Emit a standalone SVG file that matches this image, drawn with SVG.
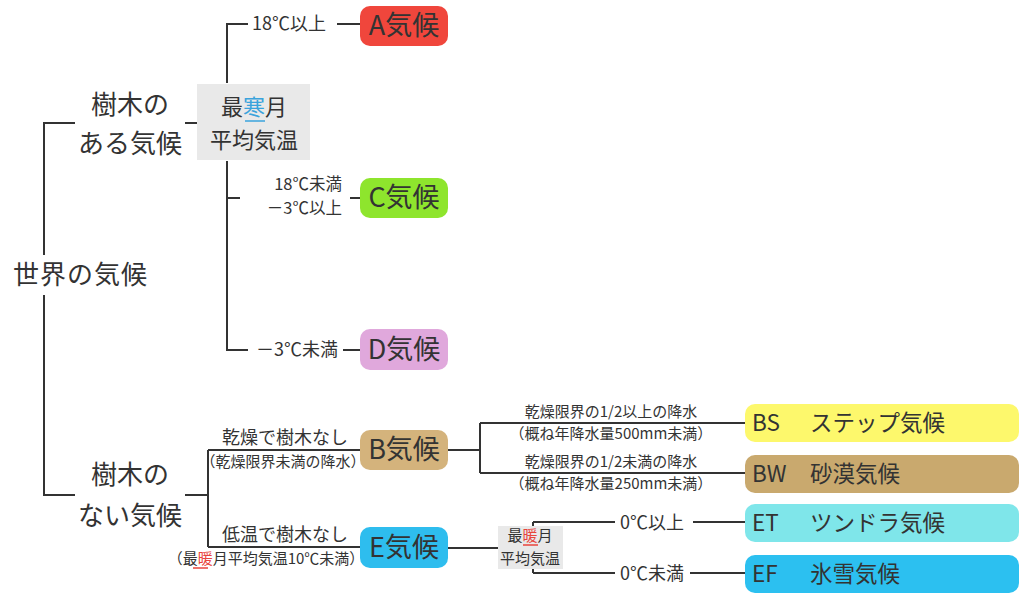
<svg xmlns="http://www.w3.org/2000/svg" width="1024" height="602" viewBox="0 0 1024 602">
<style>
text{font-family:"Noto Sans CJK JP","Noto Sans",sans-serif;fill:#333}
.ln{stroke:#333;stroke-width:2;fill:none}
.big{font-size:26px}
.box{font-size:27px}
.mid{font-size:22px}
.sm{font-size:18px}
.sc{font-size:16.5px}
.xs{font-size:15px}
.lf{font-size:22.5px}
</style>
<rect width="1024" height="602" fill="#fff"/>
<g id="connectors">
<path class="ln" d="M75,123 H44 V255 M44,295 V495 H75"/>
<path class="ln" d="M185,123 H197"/>
<path class="ln" d="M227,83 V24 H248 M337,24 H360"/>
<path class="ln" d="M227,161 V350 H248 M343,350 H360"/>
<path class="ln" d="M227,198 H240 M350,198 H360"/>
<path class="ln" d="M185,495 H208 M208,450 V547 M208,450 H360 M208,547 H360"/>
<path class="ln" d="M448,450 H480 M480,423 V473 M480,423 H745 M480,473 H745"/>
<path class="ln" d="M448,548 H498 M533,522 V573 M533,522 H615 M693,522 H745 M533,573 H615 M690,573 H745"/>
</g>
<g id="root"><text class="big" x="13" y="284" textLength="134">世界の気候</text></g>
<g id="tree"><text class="big" x="130" y="114" text-anchor="middle">樹木の</text><text class="big" x="130" y="153" text-anchor="middle">ある気候</text></g>
<g id="notree"><text class="big" x="130" y="484" text-anchor="middle">樹木の</text><text class="big" x="130" y="525" text-anchor="middle">ない気候</text></g>
<g id="coldest">
<rect x="197" y="84" width="113" height="76" fill="#e9e9e9"/>
<text class="mid" x="254" y="115" text-anchor="middle">最<tspan fill="#3aa3dc">寒</tspan>月</text>
<line x1="245" y1="121" x2="265" y2="121" stroke="#3aa3dc" stroke-width="1.5"/>
<text class="mid" x="254" y="148" text-anchor="middle">平均気温</text>
</g>
<g id="lblA"><text class="sm" x="252" y="30">18℃以上</text></g>
<g id="lblC"><text class="sc" x="342" y="190" text-anchor="end">18℃未満</text><text class="sc" x="342" y="214" text-anchor="end">－3℃以上</text></g>
<g id="lblD"><text class="sm" x="256" y="356">－3℃未満</text></g>
<g id="A"><rect x="360" y="6" width="88" height="40" rx="10" fill="#f0463c"/><text class="box" x="404" y="35" text-anchor="middle">A気候</text></g>
<g id="C"><rect x="360" y="178" width="88" height="40" rx="10" fill="#8ee52d"/><text class="box" x="404" y="207" text-anchor="middle">C気候</text></g>
<g id="D"><rect x="360" y="329" width="88" height="41" rx="10" fill="#e0a8dc"/><text class="box" x="404" y="359" text-anchor="middle">D気候</text></g>
<g id="lblB"><text class="sm" x="285" y="444" text-anchor="middle">乾燥で樹木なし</text><text class="xs" x="283" y="467" text-anchor="middle">（乾燥限界未満の降水）</text></g>
<g id="lblE"><text class="sm" x="285" y="541" text-anchor="middle">低温で樹木なし</text><text class="xs" x="266" y="564" text-anchor="middle">（最<tspan fill="#e8453c">暖</tspan>月平均気温10℃未満）</text>
<line x1="193" y1="568" x2="208" y2="568" stroke="#e8453c" stroke-width="1.5"/></g>
<g id="B"><rect x="360" y="430" width="88" height="40" rx="10" fill="#d4b37c"/><text class="box" x="404" y="459" text-anchor="middle">B気候</text></g>
<g id="E"><rect x="360" y="527" width="88" height="41" rx="10" fill="#2ebdee"/><text class="box" x="404" y="557" text-anchor="middle">E気候</text></g>
<g id="lblBS"><text class="xs" x="611" y="417" text-anchor="middle">乾燥限界の1/2以上の降水</text><text class="xs" x="611" y="439" text-anchor="middle">（概ね年降水量500mm未満）</text></g>
<g id="lblBW"><text class="xs" x="611" y="467" text-anchor="middle">乾燥限界の1/2未満の降水</text><text class="xs" x="611" y="489" text-anchor="middle">（概ね年降水量250mm未満）</text></g>
<g id="warmest">
<rect x="498" y="526" width="65" height="43" fill="#e9e9e9"/>
<text class="xs" x="530" y="541" text-anchor="middle">最<tspan fill="#e8453c">暖</tspan>月</text>
<line x1="523" y1="545" x2="538" y2="545" stroke="#e8453c" stroke-width="1.5"/>
<text class="xs" x="530" y="564" text-anchor="middle">平均気温</text>
</g>
<g id="lblET"><text class="sm" x="620" y="529">0℃以上</text></g>
<g id="lblEF"><text class="sm" x="620" y="580">0℃未満</text></g>
<g id="BS"><rect x="745" y="404" width="274" height="38" rx="10" fill="#fdf86c"/><text class="lf" x="752" y="431">BS</text><text class="lf" x="810" y="431">ステップ気候</text></g>
<g id="BW"><rect x="745" y="455" width="274" height="38" rx="10" fill="#c9a96e"/><text class="lf" x="752" y="482">BW</text><text class="lf" x="810" y="482">砂漠気候</text></g>
<g id="ET"><rect x="745" y="504" width="274" height="38" rx="10" fill="#7fe6ea"/><text class="lf" x="752" y="531">ET</text><text class="lf" x="810" y="531">ツンドラ気候</text></g>
<g id="EF"><rect x="745" y="555" width="274" height="38" rx="10" fill="#2cc0f0"/><text class="lf" x="752" y="582">EF</text><text class="lf" x="810" y="582">氷雪気候</text></g>
</svg>
